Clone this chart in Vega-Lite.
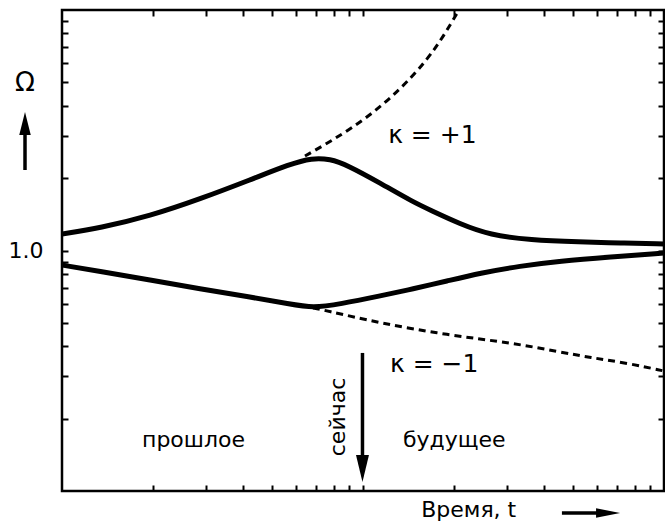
{
  "$schema": "https://vega.github.io/schema/vega-lite/v6.json",
  "autosize": {"type": "none"},
  "padding": {"left": 62, "top": 10, "right": 1, "bottom": 31},
  "width": 602,
  "height": 481,
  "background": "white",
  "view": {"stroke": "black", "strokeWidth": 2.5},
  "config": {
    "font": "DejaVu Sans",
    "axis": {"grid": false, "domain": false, "tickColor": "black", "tickWidth": 2, "tickSize": -6, "labelColor": "black", "labelFont": "DejaVu Sans", "labelFontSize": 22, "title": null}
  },
  "resolve": {"axis": {"x": "independent", "y": "independent"}},
  "encoding": {
    "x": {"field": "x", "type": "quantitative", "scale": {"type": "log", "domain": [1, 100], "nice": false}, "axis": null},
    "y": {"field": "y", "type": "quantitative", "scale": {"type": "log", "domain": [0.1, 10], "nice": false}, "axis": null}
  },
  "layer": [
    {
      "data": {"values": [
        {"curve": "k+1", "x": 1.0, "y": 1.171},
        {"curve": "k+1", "x": 1.337, "y": 1.240},
        {"curve": "k+1", "x": 1.961, "y": 1.391},
        {"curve": "k+1", "x": 2.874, "y": 1.637},
        {"curve": "k+1", "x": 4.212, "y": 1.964},
        {"curve": "k+1", "x": 5.720, "y": 2.289},
        {"curve": "k+1", "x": 6.770, "y": 2.425},
        {"curve": "k+1", "x": 7.770, "y": 2.402},
        {"curve": "k+1", "x": 8.848, "y": 2.268},
        {"curve": "k+1", "x": 11.39, "y": 1.909},
        {"curve": "k+1", "x": 14.66, "y": 1.591},
        {"curve": "k+1", "x": 16.70, "y": 1.474},
        {"curve": "k+1", "x": 21.01, "y": 1.289},
        {"curve": "k+1", "x": 26.42, "y": 1.160},
        {"curve": "k+1", "x": 35.87, "y": 1.106},
        {"curve": "k+1", "x": 52.60, "y": 1.085},
        {"curve": "k+1", "x": 71.43, "y": 1.074},
        {"curve": "k+1", "x": 100, "y": 1.064},
        {"curve": "k-1", "x": 1.0, "y": 0.870},
        {"curve": "k-1", "x": 1.337, "y": 0.818},
        {"curve": "k-1", "x": 1.961, "y": 0.754},
        {"curve": "k-1", "x": 2.874, "y": 0.692},
        {"curve": "k-1", "x": 4.212, "y": 0.641},
        {"curve": "k-1", "x": 5.720, "y": 0.599},
        {"curve": "k-1", "x": 6.822, "y": 0.577},
        {"curve": "k-1", "x": 8.386, "y": 0.599},
        {"curve": "k-1", "x": 11.39, "y": 0.647},
        {"curve": "k-1", "x": 14.66, "y": 0.692},
        {"curve": "k-1", "x": 19.02, "y": 0.747},
        {"curve": "k-1", "x": 24.47, "y": 0.806},
        {"curve": "k-1", "x": 33.23, "y": 0.862},
        {"curve": "k-1", "x": 45.13, "y": 0.904},
        {"curve": "k-1", "x": 66.16, "y": 0.940},
        {"curve": "k-1", "x": 100, "y": 0.976}
      ]},
      "mark": {"type": "line", "color": "black", "strokeWidth": 5, "interpolate": "basis", "clip": true},
      "encoding": {
        "x": {"field": "x", "type": "quantitative", "scale": {"type": "log", "domain": [1, 100], "nice": false},
              "axis": {"orient": "bottom", "values": [2,3,4,5,6,7,8,9,10,20,30,40,50,60,70,80,90], "labels": false}},
        "y": {"field": "y", "type": "quantitative", "scale": {"type": "log", "domain": [0.1, 10], "nice": false},
              "axis": {"orient": "left", "values": [0.2,0.3,0.4,0.5,0.6,0.7,0.8,0.9,1,2,3,4,5,6,7,8,9], "labelExpr": "datum.value == 1 ? '1.0' : ''", "labelPadding": 25}},
        "detail": {"field": "curve"}
      }
    },
    {
      "data": {"values": [
        {"curve": "k+1", "x": 6.416, "y": 2.471},
        {"curve": "k+1", "x": 7.950, "y": 2.880},
        {"curve": "k+1", "x": 10.31, "y": 3.556},
        {"curve": "k+1", "x": 13.27, "y": 4.650},
        {"curve": "k+1", "x": 16.32, "y": 6.196},
        {"curve": "k+1", "x": 18.44, "y": 7.722},
        {"curve": "k+1", "x": 20.84, "y": 10.0},
        {"curve": "k-1", "x": 6.822, "y": 0.577},
        {"curve": "k-1", "x": 7.363, "y": 0.566},
        {"curve": "k-1", "x": 11.39, "y": 0.4995},
        {"curve": "k-1", "x": 19.02, "y": 0.4453},
        {"curve": "k-1", "x": 31.50, "y": 0.4124},
        {"curve": "k-1", "x": 45.13, "y": 0.3784},
        {"curve": "k-1", "x": 58.08, "y": 0.3573},
        {"curve": "k-1", "x": 75.37, "y": 0.3405},
        {"curve": "k-1", "x": 100, "y": 0.3154}
      ]},
      "mark": {"type": "line", "color": "black", "strokeWidth": 3, "strokeDash": [7, 5], "interpolate": "basis", "clip": true},
      "encoding": {
        "x": {"field": "x", "type": "quantitative", "scale": {"type": "log", "domain": [1, 100], "nice": false},
              "axis": {"orient": "top", "values": [2,3,4,5,6,7,8,9,10,20,30,40,50,60,70,80,90], "labels": false}},
        "y": {"field": "y", "type": "quantitative", "scale": {"type": "log", "domain": [0.1, 10], "nice": false},
              "axis": {"orient": "right", "values": [0.2,0.3,0.4,0.5,0.6,0.7,0.8,0.9,1,2,3,4,5,6,7,8,9], "labels": false}},
        "detail": {"field": "curve"}
      }
    },
    {
      "data": {"values": [
        {"label": "κ = +1", "x": 12.12, "y": 2.80},
        {"label": "κ = −1", "x": 12.29, "y": 0.3125}
      ]},
      "mark": {"type": "text", "fontSize": 25, "align": "left", "baseline": "alphabetic", "color": "black"},
      "encoding": {"text": {"field": "label"}}
    },
    {
      "data": {"values": [
        {"label": "прошлое", "x": 1.844, "y": 0.1524},
        {"label": "будущее", "x": 13.58, "y": 0.1524}
      ]},
      "mark": {"type": "text", "fontSize": 22, "align": "left", "baseline": "alphabetic", "color": "black"},
      "encoding": {"text": {"field": "label"}}
    },
    {
      "data": {"values": [{"label": "сейчас", "x": 8.26, "y": 0.2031}]},
      "mark": {"type": "text", "fontSize": 22, "angle": 270, "align": "center", "baseline": "middle", "color": "black"},
      "encoding": {"text": {"field": "label"}}
    },
    {
      "data": {"values": [{"label": "Ω", "x": 0.7535, "y": 4.95}]},
      "mark": {"type": "text", "fontSize": 26, "align": "center", "baseline": "middle", "color": "black", "clip": false},
      "encoding": {"text": {"field": "label"}}
    },
    {
      "data": {"values": [{"label": "Время, t", "x": 22.45, "y": 0.0834}]},
      "mark": {"type": "text", "fontSize": 22, "align": "center", "baseline": "middle", "color": "black", "clip": false},
      "encoding": {"text": {"field": "label"}}
    },
    {
      "data": {"values": [
        {"arrow": "now", "x": 9.96, "x2": 9.96, "y": 0.375, "y2": 0.1282},
        {"arrow": "omega", "x": 0.7535, "x2": 0.7535, "y": 2.161, "y2": 3.325},
        {"arrow": "time", "x": 45.8, "x2": 61.3, "y": 0.081, "y2": 0.081}
      ]},
      "mark": {"type": "rule", "color": "black", "strokeWidth": 3.5, "clip": false},
      "encoding": {
        "x2": {"field": "x2"},
        "y2": {"field": "y2"}
      }
    },
    {
      "data": {"values": [{"arrow": "now", "x": 9.96, "y": 0.1241}]},
      "mark": {"type": "point", "shape": "M-0.48,-1L0.48,-1L0,1Z", "size": 729, "filled": true, "color": "black", "opacity": 1, "clip": false}
    },
    {
      "data": {"values": [{"arrow": "omega", "x": 0.7535, "y": 3.374}]},
      "mark": {"type": "point", "shape": "M-0.5,1L0.5,1L0,-1Z", "size": 529, "filled": true, "color": "black", "opacity": 1, "clip": false}
    },
    {
      "data": {"values": [{"arrow": "time", "x": 65.2, "y": 0.081}]},
      "mark": {"type": "point", "shape": "M-1,-0.4L1,0L-1,0.4Z", "size": 576, "filled": true, "color": "black", "opacity": 1, "clip": false}
    }
  ]
}
